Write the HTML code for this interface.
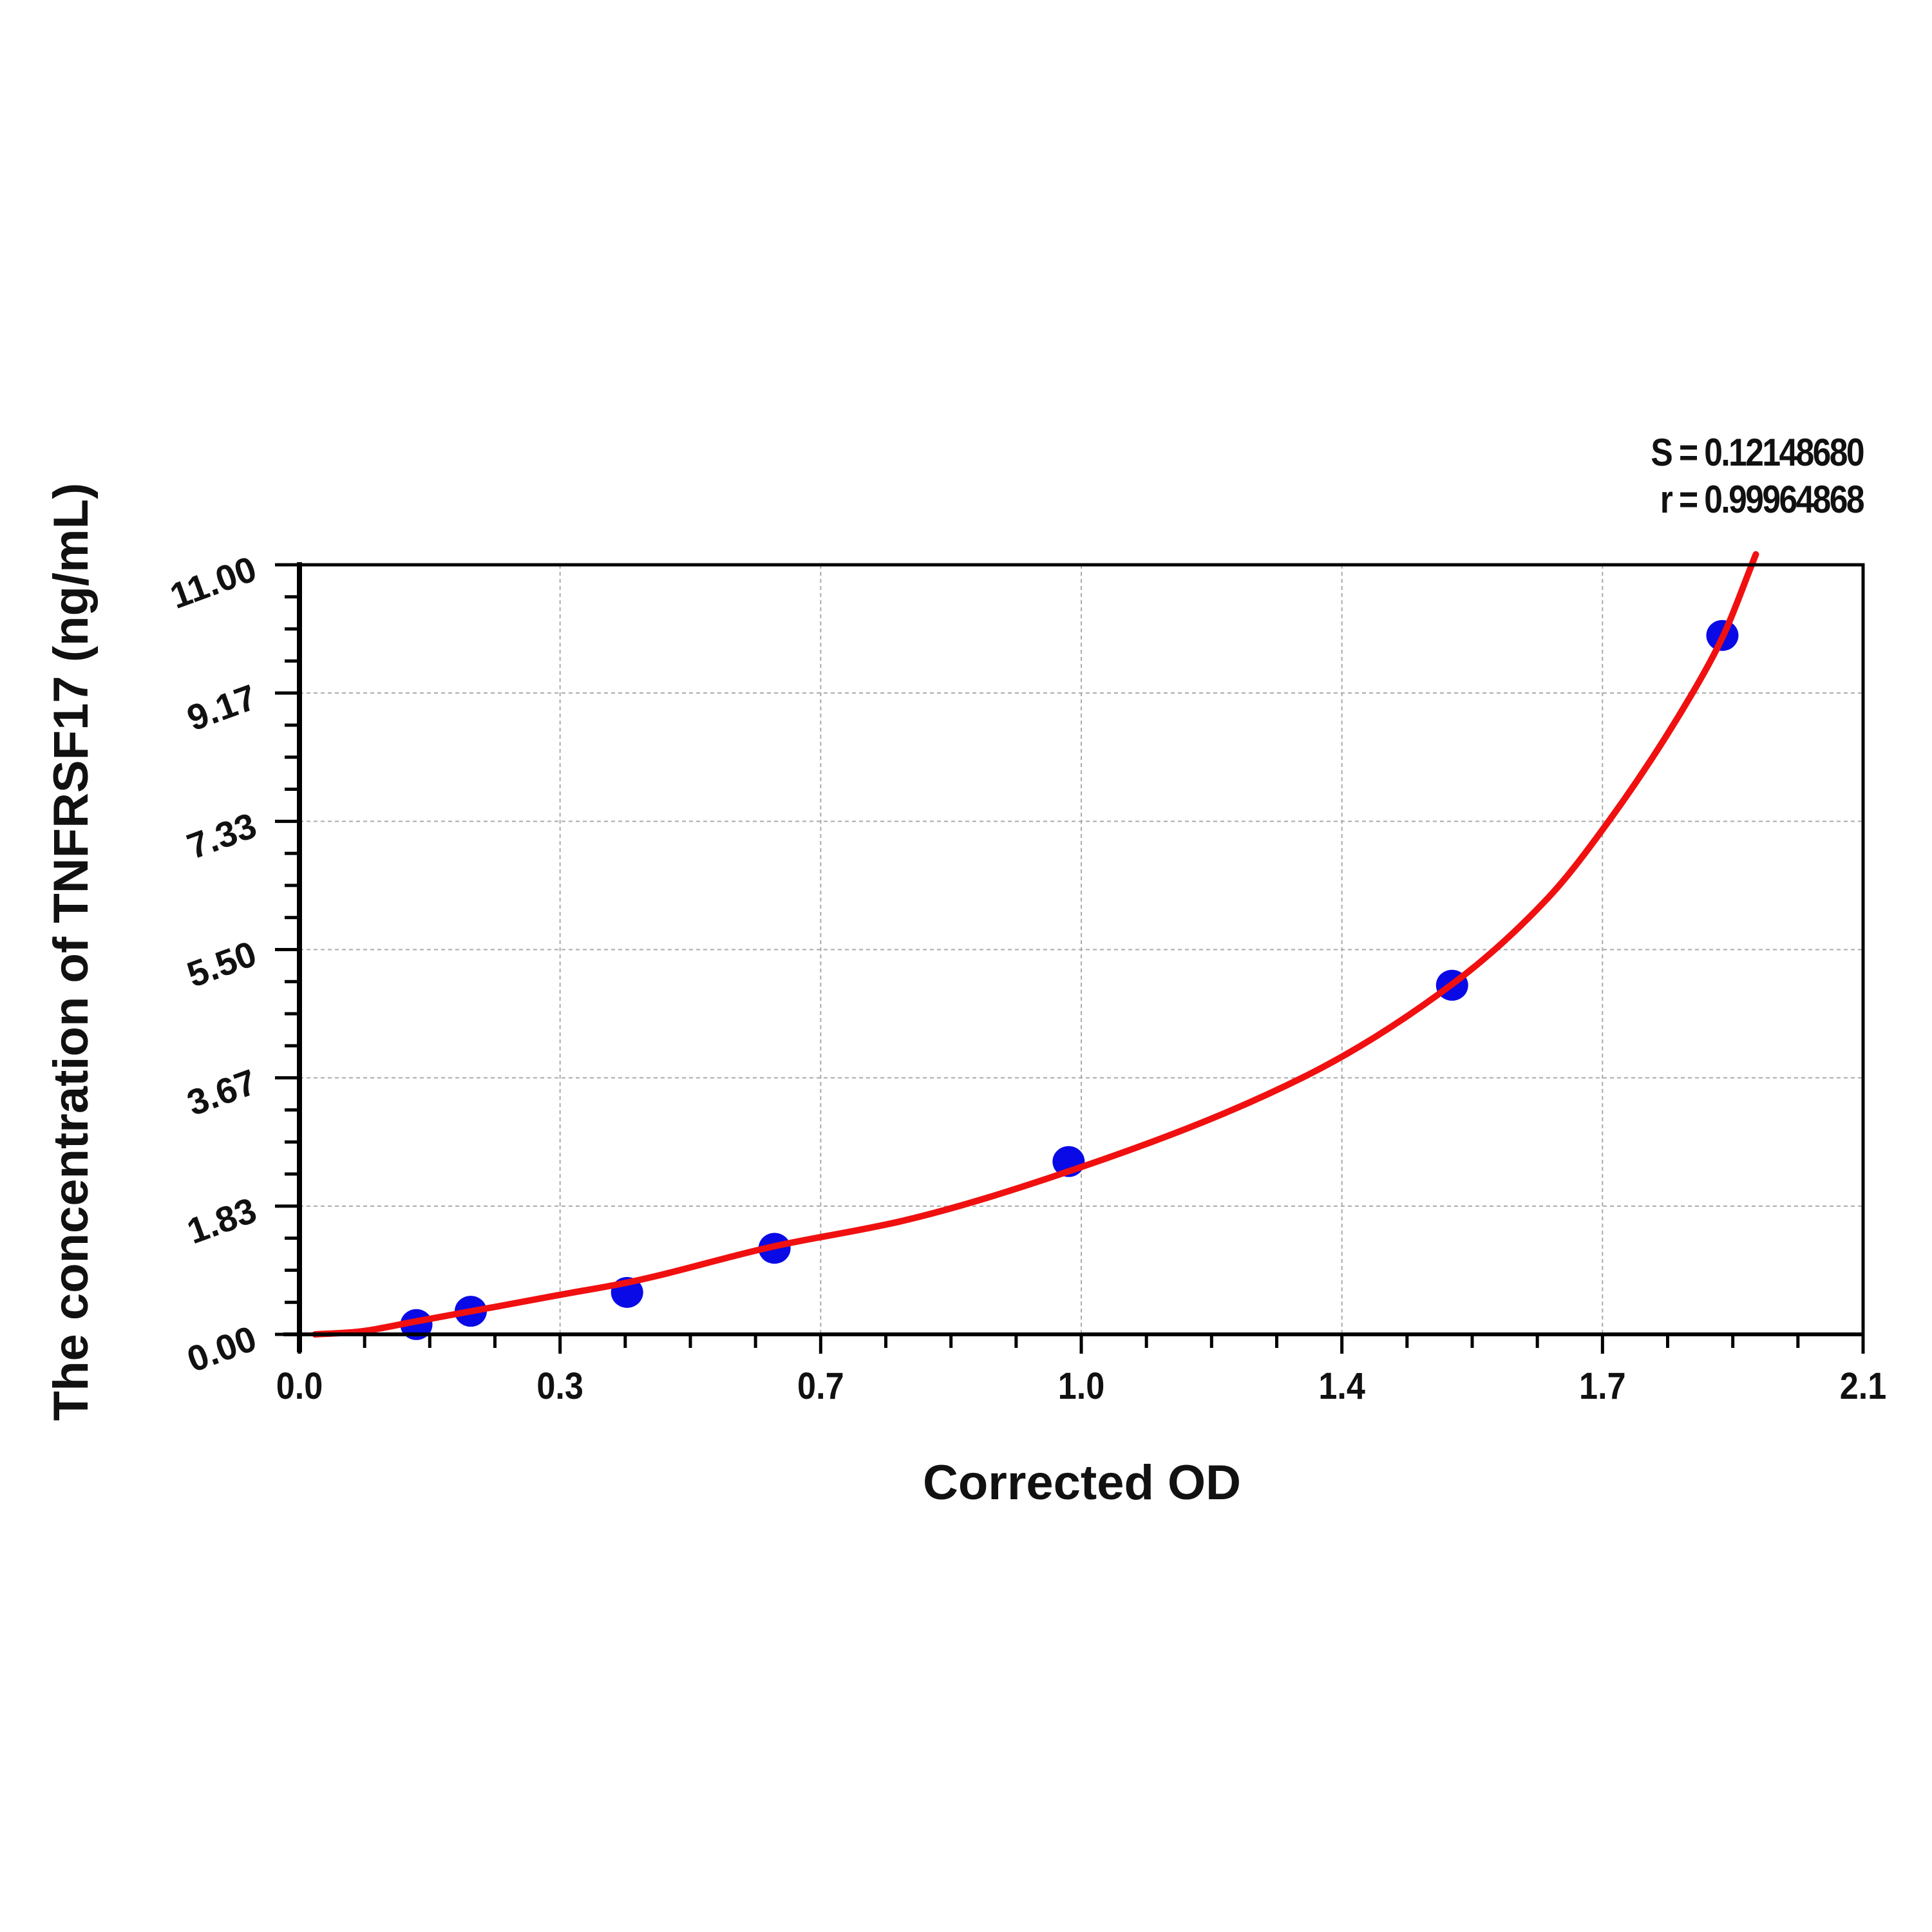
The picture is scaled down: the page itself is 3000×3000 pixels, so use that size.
<!DOCTYPE html>
<html><head><meta charset="utf-8"><style>
html,body{margin:0;padding:0;background:#fff;}
svg{display:block;}
text{font-family:"Liberation Sans",Arial,sans-serif;font-weight:bold;fill:#111;}
</style></head><body>
<svg id="chart" width="3000" height="3000" viewBox="0 0 3000 3000" xmlns="http://www.w3.org/2000/svg">
<rect width="3000" height="3000" fill="#fff"/>
<g id="grid"></g>
<g id="ticks"></g>
<g id="labels"></g>
<g id="series"></g>
<rect x="465" y="877" width="2428" height="1195" fill="none" stroke="#000" stroke-width="5"/>
<line x1="465" y1="873" x2="465" y2="2100" stroke="#000" stroke-width="8"/>
<line x1="440" y1="2072" x2="2895" y2="2072" stroke="#000" stroke-width="6"/>
<text x="1680" y="2328" font-size="76" text-anchor="middle">Corrected OD</text>
<text transform="translate(136,1478) rotate(-90)" font-size="76" text-anchor="middle">The concentration of TNFRSF17 (ng/mL)</text>
<text transform="translate(2893,723) scale(0.86,1)" font-size="60" letter-spacing="-3" text-anchor="end">S = 0.12148680</text>
<text transform="translate(2893,796) scale(0.86,1)" font-size="60" letter-spacing="-3" text-anchor="end">r = 0.99964868</text>
</svg>
<script>
const xTickLabels = ["0.0","0.3","0.7","1.0","1.4","1.7","2.1"];
const yTickLabels = ["0.00","1.83","3.67","5.50","7.33","9.17","11.00"];
const pointX = [0.157, 0.230, 0.440, 0.638, 1.033, 1.548, 1.911];
const pointY = [0.14, 0.33, 0.60, 1.23, 2.47, 4.99, 9.99];
const curveX = [0.021, 0.071, 0.159, 0.347, 0.44, 0.638, 0.809, 1.033, 1.349, 1.55, 1.677, 1.758, 1.871, 1.911, 1.956];
const curveY = [0.0, 0.03, 0.19, 0.56, 0.74, 1.26, 1.62, 2.33, 3.68, 5.02, 6.24, 7.33, 9.17, 9.96, 11.15];

const X0=465, X1=2893, Y0=2072, Y1=877, XMAX=2.1, YMAX=11;
const sx = v => X0 + v/XMAX*(X1-X0);
const sy = v => Y0 - v/YMAX*(Y0-Y1);
const NS="http://www.w3.org/2000/svg";
function mk(tag, attrs, parent){const e=document.createElementNS(NS,tag);for(const k in attrs)e.setAttribute(k,attrs[k]);parent.appendChild(e);return e;}
const grid=document.getElementById('grid'), ticks=document.getElementById('ticks'), labels=document.getElementById('labels'), series=document.getElementById('series');

for(let i=0;i<xTickLabels.length;i++){
  const v=i*XMAX/(xTickLabels.length-1), x=sx(v);
  if(i>0&&i<xTickLabels.length-1){
    const g=mk('line',{x1:x,y1:Y1,x2:x,y2:Y0,stroke:'#aaa','stroke-width':2,'stroke-dasharray':'6,5'},grid);
    
    
  }
  const t=mk('line',{x1:x,y1:Y0,x2:x,y2:Y0+30,stroke:'#000','stroke-width':5},ticks);
  
  
  if(i<xTickLabels.length-1){
    for(let j=1;j<4;j++){
      const mx=sx(v+j*XMAX/(xTickLabels.length-1)/4);
      const m=mk('line',{x1:mx,y1:Y0,x2:mx,y2:Y0+21,stroke:'#000','stroke-width':5},ticks);
      
      
    }
  }
  const l=mk('text',{transform:`translate(${x},${2172}) scale(0.9,1)`,'font-size':58,'text-anchor':'middle'},labels);
  l.textContent=xTickLabels[i];
  
  
}
for(let i=0;i<yTickLabels.length;i++){
  const v=i*YMAX/(yTickLabels.length-1), y=sy(v);
  if(i>0&&i<yTickLabels.length-1){
    const g=mk('line',{x1:X0,y1:y,x2:X1,y2:y,stroke:'#aaa','stroke-width':2,'stroke-dasharray':'6,5'},grid);
    
    
  }
  const t=mk('line',{x1:X0-38,y1:y,x2:X0,y2:y,stroke:'#000','stroke-width':5},ticks);
  
  
  if(i<yTickLabels.length-1){
    for(let j=1;j<4;j++){
      const my=sy(v+j*YMAX/(yTickLabels.length-1)/4);
      const m=mk('line',{x1:X0-23,y1:my,x2:X0,y2:my,stroke:'#000','stroke-width':5},ticks);
      
      
    }
  }
  const l=mk('text',{transform:`translate(402,${y+22}) rotate(-20)`,'font-size':56,'text-anchor':'end'},labels);
  l.textContent=yTickLabels[i];
  
  
}
// monotone cubic interpolation (Fritsch-Carlson)
const n=curveX.length, dx=[], m=[], tg=[];
for(let i=0;i<n-1;i++){dx.push(curveX[i+1]-curveX[i]);m.push((curveY[i+1]-curveY[i])/dx[i]);}
tg[0]=m[0]; tg[n-1]=m[n-2];
for(let i=1;i<n-1;i++){tg[i]=(m[i-1]*m[i]<=0)?0:3*(dx[i-1]+dx[i])/((2*dx[i]+dx[i-1])/m[i-1]+(dx[i]+2*dx[i-1])/m[i]);}
let d=`M${sx(curveX[0])},${sy(curveY[0])}`;
for(let i=0;i<n-1;i++){
  const h=dx[i];
  const c1x=curveX[i]+h/3, c1y=curveY[i]+tg[i]*h/3;
  const c2x=curveX[i+1]-h/3, c2y=curveY[i+1]-tg[i+1]*h/3;
  d+=` C${sx(c1x)},${sy(c1y)} ${sx(c2x)},${sy(c2y)} ${sx(curveX[i+1])},${sy(curveY[i+1])}`;
}
for(let i=0;i<pointX.length;i++){
  const c=mk('ellipse',{cx:sx(pointX[i]),cy:sy(pointY[i]),rx:25,ry:24,fill:'#0a0ae6'},series);
  
  
}
const path=mk('path',{d:d,fill:'none',stroke:'#f01010','stroke-width':10,'stroke-linecap':'round'},series);


</script>
</body></html>
